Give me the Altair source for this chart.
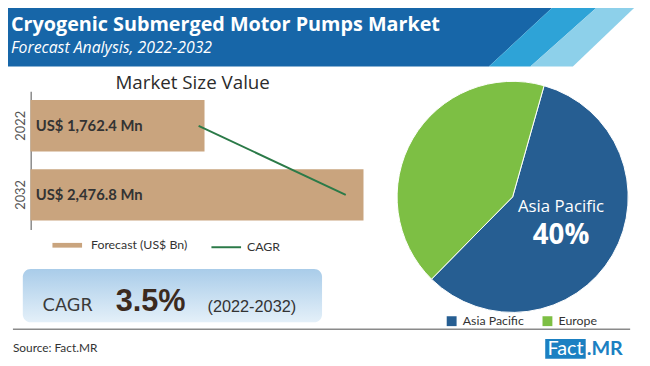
import math
import altair as alt
import pandas as pd

# ---------------- data ----------------
TITLE = "Cryogenic Submerged Motor Pumps Market"
SUBTITLE = "Forecast Analysis, 2022-2032"
PANEL_TITLE = "Market Size Value"

years = ["2022", "2032"]
market_values = [1762.4, 2476.8]
value_labels = ["US$ 1,762.4 Mn", "US$ 2,476.8 Mn"]
bar_series = "Forecast (US$ Bn)"

cagr_years = ["2022", "2032"]
cagr_line_values = [1736, 2397]
line_series = "CAGR"

regions = ["Asia Pacific", "Europe"]
region_shares = [58, 42]
highlight_region = "Asia Pacific"
highlight_label = "40%"

cagr_word = "CAGR"
cagr_value = "3.5%"
cagr_period = "(2022-2032)"
source_text = "Source: Fact.MR"
logo_left = "Fact"
logo_right = ".MR"

header_stripes = ["dark", "mid", "light"]
header_top_edges = [(0, 565), (565, 610), (610, 648)]
header_bottom_edges = [(0, 495), (495, 537), (537, 580)]

# ---------------- style ----------------
TAN = "#c9a47e"
LINE_GREEN = "#2b7a48"
PIE_BLUE = "#265e92"
PIE_GREEN = "#7dbf44"
HEADER_COLORS = ["#1766a8", "#2ea3d7", "#8dd0ea"]
LOGO_BLUE = "#1b80c2"
OFF = 8  # page margin


def P(v):
    return v - OFF


PX = alt.Scale(domain=[8, 650], range=[0, 642], zero=False, nice=False)
PY = alt.Scale(domain=[8, 366], range=[0, 358], zero=False, nice=False)


def txt(text, x, y, **kw):
    return alt.Chart(pd.DataFrame({"t": [text]})).mark_text(**kw).encode(
        text="t:N", x=alt.value(P(x)), y=alt.value(P(y))
    )


# ---------------- header ----------------
rows = []
for s, top, bot in zip(header_stripes, header_top_edges, header_bottom_edges):
    rows.append({"stripe": s, "y": 0, "x0": top[0], "x1": top[1]})
    rows.append({"stripe": s, "y": 65, "x0": bot[0], "x1": bot[1]})
header = alt.Chart(pd.DataFrame(rows)).mark_area(orient="horizontal").encode(
    y=alt.Y("y:Q", scale=PY, axis=None),
    x=alt.X("x0:Q", scale=PX, axis=None, stack=None),
    x2="x1:Q",
    color=alt.Color("stripe:N", scale=alt.Scale(domain=header_stripes, range=HEADER_COLORS), legend=None),
    detail="stripe:N",
)

title = txt(TITLE, 11, 29, align="left", baseline="alphabetic", font="Open Sans",
            fontWeight="bold", fontSize=20, color="white")
subtitle = txt(SUBTITLE, 11, 51, align="left", baseline="alphabetic", font="Open Sans",
               fontStyle="italic", fontSize=16, color="white")
panel_title = txt(PANEL_TITLE, 195, 82, align="center", baseline="middle", font="Open Sans",
                  fontSize=19, color="#2b2b2b")

# ---------------- bars ----------------
bar_df = pd.DataFrame({"year": years, "value": market_values, "label": value_labels,
                       "series": [bar_series] * len(years)})
line_df = pd.DataFrame({"year": cagr_years, "value": cagr_line_values,
                        "series": [line_series] * len(cagr_years)})

ys = alt.Scale(domain=years, range=[P(90), P(230)], paddingInner=0.257, paddingOuter=0.129)
xs = alt.Scale(domain=[980, 2480], range=[P(30.7), P(368.7)], zero=False, nice=False)
y_axis = alt.Axis(title=None, ticks=False, tickSize=0, labelAngle=270, labelAlign="center",
                  labelBaseline="alphabetic", labelPadding=6, labelFont="Lato", labelFontSize=13,
                  labelColor="#555555", domainColor="#8a8a8a", domainWidth=1.5, grid=False,
                  offset=-P(31))

bars = alt.Chart(bar_df).mark_bar().encode(
    y=alt.Y("year:N", scale=ys, axis=y_axis),
    x=alt.X("value:Q", scale=xs, axis=None),
    x2=alt.X2(datum=980),
    color=alt.Color("series:N", scale=alt.Scale(domain=[bar_series], range=[TAN]),
                    legend=alt.Legend(title=None, orient="none", legendX=P(53), legendY=P(231),
                                      symbolType="M-1,-0.16H1V0.16H-1Z", symbolSize=900,
                                      symbolStrokeWidth=0, labelFont="Lato", labelFontSize=12.5,
                                      labelColor="#333333", labelOffset=9, padding=0)),
)
bar_labels = alt.Chart(bar_df).mark_text(align="left", baseline="middle", font="Lato",
                                         fontWeight="bold", fontSize=15, color="#333333").encode(
    y=alt.Y("year:N", scale=ys, axis=y_axis),
    x=alt.value(P(36)),
    text="label:N",
)
cagr_line = alt.Chart(line_df).mark_line(strokeWidth=2).encode(
    y=alt.Y("year:N", scale=ys, axis=y_axis),
    x=alt.X("value:Q", scale=xs, axis=None),
    color=alt.Color("series:N", scale=alt.Scale(domain=[line_series], range=[LINE_GREEN]),
                    legend=alt.Legend(title=None, orient="none", legendX=P(213), legendY=P(232),
                                      symbolType="stroke", symbolSize=900, symbolStrokeWidth=2,
                                      labelFont="Lato", labelFontSize=12.5, labelColor="#333333",
                                      labelOffset=5, padding=0)),
)
bar_panel = alt.layer(bars, bar_labels, cagr_line).resolve_scale(color="independent")

# ---------------- CAGR box ----------------
grad = alt.Gradient(gradient="linear",
                    stops=[alt.GradientStop(color="#a9cce9", offset=0),
                           alt.GradientStop(color="#e4f0f9", offset=1)],
                    x1=0, x2=0, y1=0, y2=1)
box = alt.Chart(pd.DataFrame({"k": [0]})).mark_rect(fill=grad, cornerRadius=8).encode(
    x=alt.value(P(23)), x2=alt.value(P(326)), y=alt.value(P(270)), y2=alt.value(P(324))
)
box_word = txt(cagr_word, 43, 313, align="left", baseline="alphabetic", font="DejaVu Sans",
               fontSize=18, color="#3a3a3a")
box_value = txt(cagr_value, 117, 313, align="left", baseline="alphabetic",
                font="Liberation Sans", fontWeight="bold", fontSize=31, color="#3b2a1e")
box_period = txt(cagr_period, 210, 314, align="left", baseline="alphabetic",
                 font="Liberation Sans", fontSize=16.5, color="#333333")

separator = alt.Chart(pd.DataFrame({"k": [0]})).mark_rule(color="#8a8a8a", strokeWidth=1.5).encode(
    x=alt.value(P(13)), x2=alt.value(P(638)), y=alt.value(P(331))
)
source = txt(source_text, 13, 350, align="left", baseline="middle", font="Lato",
             fontSize=12, color="#333333")

# ---------------- pie ----------------
pie_df = pd.DataFrame({"region": regions, "share": region_shares, "order": list(range(len(regions)))})
start = math.radians(15.8)
pie = alt.Chart(pie_df).mark_arc(radius=117, stroke="white", strokeWidth=1).encode(
    theta=alt.Theta("share:Q", stack=True, scale=alt.Scale(range=[start, start + 2 * math.pi])),
    order=alt.Order("order:Q"),
    color=alt.Color("region:N", scale=alt.Scale(domain=regions, range=[PIE_BLUE, PIE_GREEN]),
                    legend=alt.Legend(title=None, orient="none", direction="horizontal",
                                      legendX=P(451), legendY=P(316.5), symbolType="square",
                                      symbolSize=100, symbolStrokeWidth=0, labelFont="Lato",
                                      labelFontSize=12.5, labelColor="#333333", labelOffset=5,
                                      columnPadding=17, padding=0)),
    x=alt.value(P(519)),
    y=alt.value(P(197)),
)
pie_name = txt(highlight_region, 568, 207, align="center", baseline="middle", font="Open Sans",
               fontSize=17, color="white")
pie_pct = txt(highlight_label, 568, 237, align="center", baseline="middle", font="Open Sans",
              fontWeight="bold", fontSize=28, color="white")

# ---------------- logo ----------------
logo_box = alt.Chart(pd.DataFrame({"k": [0]})).mark_rect(color=LOGO_BLUE).encode(
    x=alt.value(P(552)), x2=alt.value(P(593)), y=alt.value(P(341)), y2=alt.value(P(361))
)
logo_l = txt(logo_left, 572.5, 351.5, align="center", baseline="middle", font="Lato",
             fontSize=20, color="white")
logo_r = txt(logo_right, 594, 351.5, align="left", baseline="middle", font="Lato",
             fontWeight="bold", fontSize=20, color=LOGO_BLUE)

chart = alt.layer(
    header, title, subtitle, panel_title, bar_panel, box, box_word, box_value, box_period,
    separator, source, pie, pie_name, pie_pct, logo_box, logo_l, logo_r,
).resolve_scale(
    x="independent", y="independent", color="independent", theta="independent"
).properties(
    width=642, height=358, autosize=alt.AutoSizeParams(type="none"), padding=0,
    background="white",
).configure_view(stroke=None)

chart.save("out.html", embed_options={"renderer": "svg", "actions": False})
